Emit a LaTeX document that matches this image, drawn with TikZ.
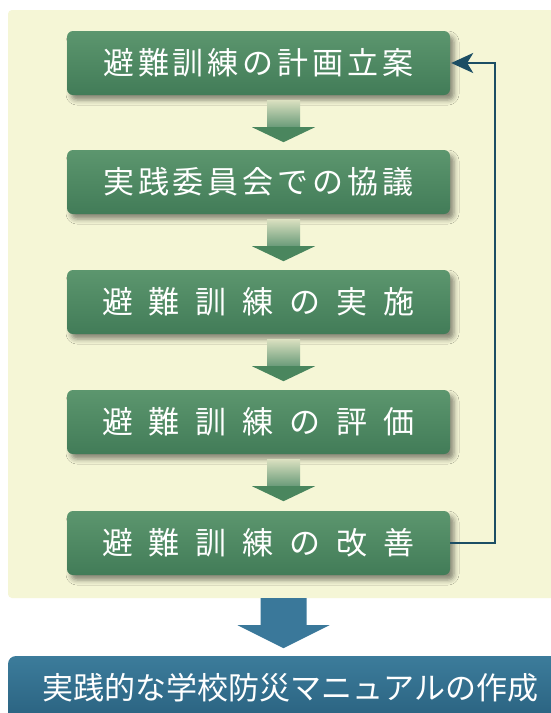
\documentclass[tikz,border=0pt]{standalone}
\usepackage{fontspec}
\newfontfamily\jp{Noto Sans CJK JP}
\usetikzlibrary{arrows.meta,shadows.blur,calc}
\definecolor{cream}{RGB}{245,246,214}
\definecolor{gtop}{RGB}{92,150,110}
\definecolor{gbot}{RGB}{66,124,88}
\definecolor{garrow}{RGB}{74,134,94}
\definecolor{gshaft}{RGB}{218,224,192}
\definecolor{btop}{RGB}{60,124,155}
\definecolor{bbot}{RGB}{42,98,128}
\definecolor{barrow}{RGB}{58,120,154}
\definecolor{conncol}{RGB}{28,78,100}
\newcommand\gapA{\hspace{4pt}}
\newcommand\gapB{\hspace{16pt}}
\tikzset{
  stepbox/.style={rounded corners=6pt, minimum width=383pt, minimum height=64pt,
    inner sep=0pt, top color=gtop, bottom color=gbot, text=white,
    font=\jp\fontsize{31pt}{31pt}\selectfont,
    blur shadow={shadow xshift=4pt, shadow yshift=-5pt, shadow blur radius=5pt, shadow opacity=45}},
  finalbox/.style={rounded corners=8pt, minimum width=565pt, minimum height=64pt,
    inner sep=0pt, top color=btop, bottom color=bbot, text=white,
    font=\jp\fontsize{31pt}{31pt}\selectfont},
  conn/.style={draw=conncol, line width=2.2pt, -{Stealth[length=22pt,width=20pt,inset=6pt]}}
}
\begin{document}
\begin{tikzpicture}[x=1pt,y=-1pt]
\useasboundingbox (0,0) rectangle (550,713);
\fill[white] (0,0) rectangle (550,713);
\fill[cream, rounded corners=4pt] (8,10) rectangle (560,598);

\node[stepbox] (b1) at (258.5,63) {避\gapA 難\gapA 訓\gapA 練\gapA の\gapA 計\gapA 画\gapA 立\gapA 案};
\node[stepbox] (b2) at (258.5,182) {実\gapA 践\gapA 委\gapA 員\gapA 会\gapA で\gapA の\gapA 協\gapA 議};
\node[stepbox] (b3) at (258.5,302) {避\gapB 難\gapB 訓\gapB 練\gapB の\gapB 実\gapB 施};
\node[stepbox] (b4) at (258.5,422) {避\gapB 難\gapB 訓\gapB 練\gapB の\gapB 評\gapB 価};
\node[stepbox] (b5) at (258.5,543) {避\gapB 難\gapB 訓\gapB 練\gapB の\gapB 改\gapB 善};

\foreach \a in {b1,b2,b3,b4}{
  \coordinate (t) at ($(\a.south)+(25,0)$);
  \shade[top color=gshaft, bottom color=garrow!85!white]
    ($(t)+(-16.5,5)$) rectangle ($(t)+(16.5,33)$);
  \fill[garrow] ($(t)+(-31.5,32)$) -- ($(t)+(31.5,32)$) -- ($(t)+(0,47)$) -- cycle;
}

\draw[conn] (b5.east) -- ++(45,0) |- ([xshift=1pt]b1.east);

\node[finalbox] (fin) at (290.5,688) {実践的な学校防災マニュアルの作成};

\coordinate (u) at ($(b5.south)+(25,0)$);
\fill[barrow] ($(u)+(-23,23)$) -- ($(u)+(23,23)$) -- ($(u)+(23,50)$) -- ($(u)+(46,50)$)
  -- ($(u)+(0,73)$) -- ($(u)+(-46,50)$) -- ($(u)+(-23,50)$) -- cycle;
\end{tikzpicture}
\end{document}
